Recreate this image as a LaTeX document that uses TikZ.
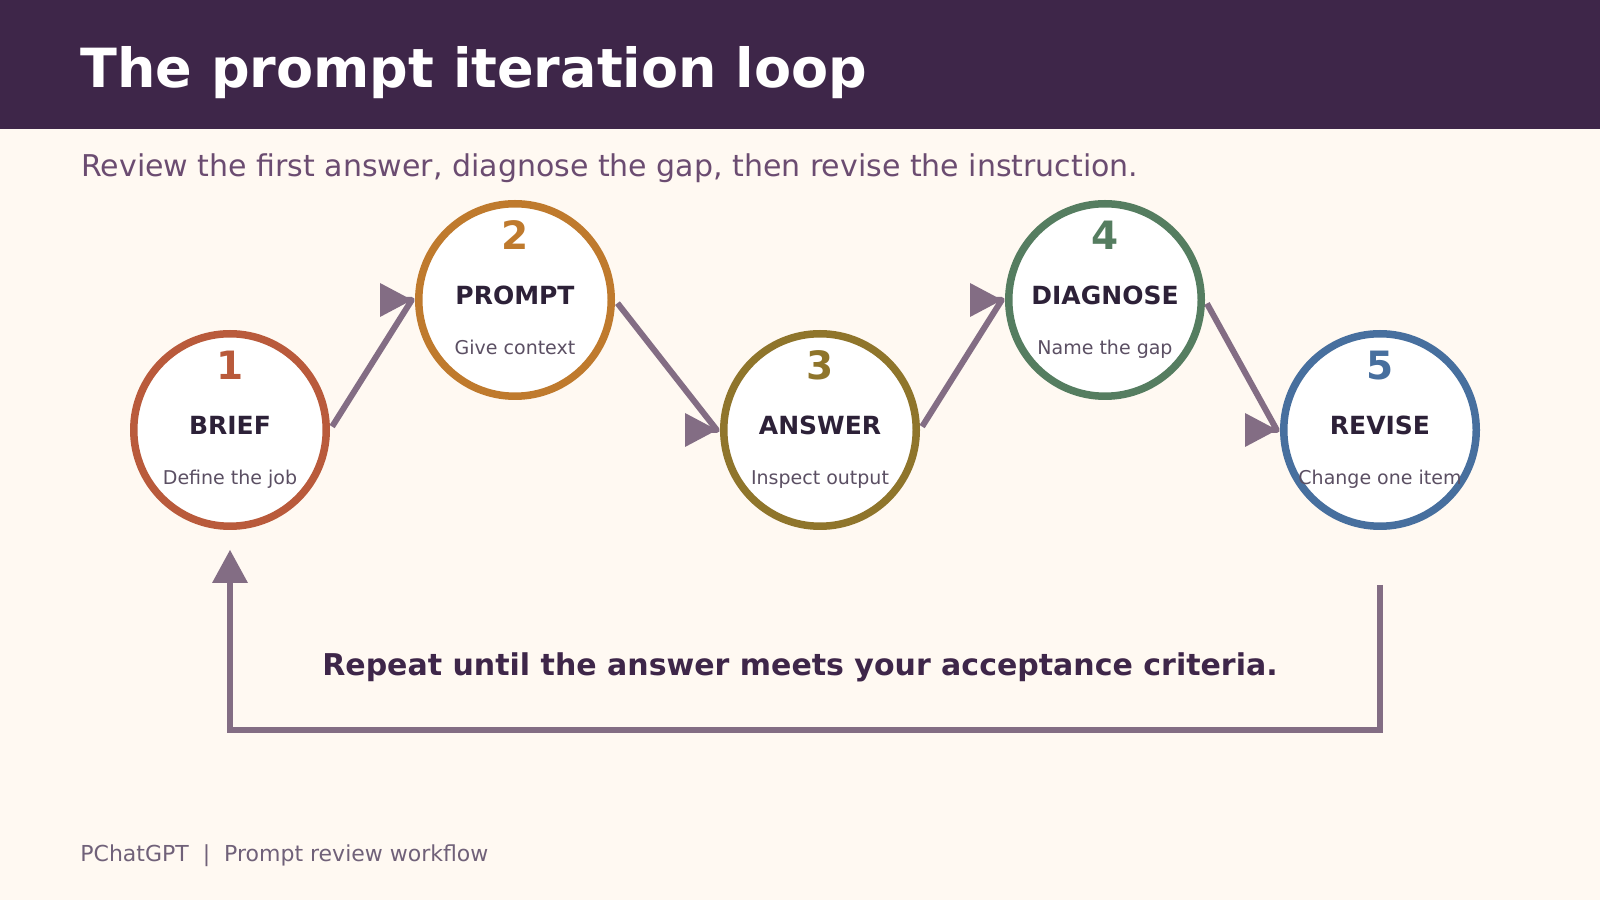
\documentclass[tikz,border=0pt]{standalone}
\usepackage{fontspec}
\setmainfont{DejaVu Sans}
\usetikzlibrary{arrows.meta,positioning,calc}
\definecolor{paper}{HTML}{FFF9F2}
\definecolor{band}{HTML}{3E2649}
\definecolor{lede}{HTML}{6B4C71}
\definecolor{ink}{HTML}{2D2138}
\definecolor{note}{HTML}{5B4F63}
\definecolor{mauve}{HTML}{836D84}
\definecolor{foot}{HTML}{706179}
\definecolor{briefc}{HTML}{B95A3B}
\definecolor{promptc}{HTML}{BF7A2D}
\definecolor{answerc}{HTML}{8F752B}
\definecolor{diagc}{HTML}{557D60}
\definecolor{revisec}{HTML}{476F9E}
\tikzset{
  stage/.style={circle,draw=#1,fill=white,line width=3.75pt,minimum size=96.25pt,
    inner sep=0pt},
  stepnum/.style={anchor=base,inner sep=0pt,font=\bfseries\fontsize{19.5}{22}\selectfont},
  steptitle/.style={anchor=base,inner sep=0pt,text=ink,
    font=\bfseries\fontsize{12.5}{14}\selectfont},
  stepnote/.style={anchor=base,inner sep=0pt,text=note,font=\fontsize{9.5}{11}\selectfont},
  link/.style={draw=mauve,line width=3pt,line join=round,shorten <=2pt,
    -{Triangle[length=16pt,width=17pt,line width=0pt]}},
  loopback/.style={draw=mauve,line width=3pt,
    -{Triangle[length=16.5pt,width=18pt,line width=0pt]}}
}
\begin{document}
\begin{tikzpicture}[x=0.5pt,y=0.5pt]
  \fill[paper] (0,0) rectangle (1600,900);
  \fill[band] (0,771) rectangle (1600,900);
  \node[anchor=base west,inner sep=0pt,text=white,font=\bfseries\fontsize{27}{32}\selectfont]
    (title) at (80,812.7) {The prompt iteration loop};
  \node[anchor=base west,inner sep=0pt,text=lede,font=\fontsize{15}{18}\selectfont]
    (lede) at (81,723.3) {Review the first answer, diagnose the gap, then revise the instruction.};

  % the five stages
  \node[stage=briefc] (brief) at (230,470) {};
  \node[stage=promptc] (prompt) at (515,600) {};
  \node[stage=answerc] (answer) at (820,470) {};
  \node[stage=diagc] (diagnose) at (1105,600) {};
  \node[stage=revisec] (revise) at (1380,470) {};

  \node[stepnum,text=briefc] (briefnum) at ($(brief)+(0,50)$) {1};
  \node[steptitle] (brieftitle) at ($(brief)+(0,-5)$) {BRIEF};
  \node[stepnote] (briefnote) at ($(brief)+(0,-55)$) {Define the job};

  \node[stepnum,text=promptc] (promptnum) at ($(prompt)+(0,50)$) {2};
  \node[steptitle] (prompttitle) at ($(prompt)+(0,-5)$) {PROMPT};
  \node[stepnote] (promptnote) at ($(prompt)+(0,-55)$) {Give context};

  \node[stepnum,text=answerc] (answernum) at ($(answer)+(0,50)$) {3};
  \node[steptitle] (answertitle) at ($(answer)+(0,-5)$) {ANSWER};
  \node[stepnote] (answernote) at ($(answer)+(0,-55)$) {Inspect output};

  \node[stepnum,text=diagc] (diagnum) at ($(diagnose)+(0,50)$) {4};
  \node[steptitle] (diagtitle) at ($(diagnose)+(0,-5)$) {DIAGNOSE};
  \node[stepnote] (diagnote) at ($(diagnose)+(0,-55)$) {Name the gap};

  \node[stepnum,text=revisec] (revisenum) at ($(revise)+(0,50)$) {5};
  \node[steptitle] (revisetitle) at ($(revise)+(0,-5)$) {REVISE};
  \node[stepnote] (revisenote) at ($(revise)+(0,-55)$) {Change one item};

  % zig-zag links, heads point right
  \draw[link] (brief.east) -- ($(prompt.west)+(-3.2,0)$) -- ($(prompt.west)+(-3,0)$);
  \draw[link] (prompt.east) -- ($(answer.west)+(-3.2,0)$) -- ($(answer.west)+(-3,0)$);
  \draw[link] (answer.east) -- ($(diagnose.west)+(-3.2,0)$) -- ($(diagnose.west)+(-3,0)$);
  \draw[link] (diagnose.east) -- ($(revise.west)+(-3.2,0)$) -- ($(revise.west)+(-3,0)$);

  % back to the brief
  \draw[loopback] ($(revise.south)+(0,-55)$) -- ++(0,-145) -| ($(brief.south)+(0,-20)$);
  \node[anchor=base,inner sep=0pt,text=band,font=\bfseries\fontsize{15}{18}\selectfont]
    (repeat) at (800,225) {Repeat until the answer meets your acceptance criteria.};

  \node[anchor=base west,inner sep=0pt,text=foot,font=\fontsize{11}{13}\selectfont]
    (footer) at (80,38.3) {PChatGPT~~|~~Prompt review workflow};
\end{tikzpicture}
\end{document}
